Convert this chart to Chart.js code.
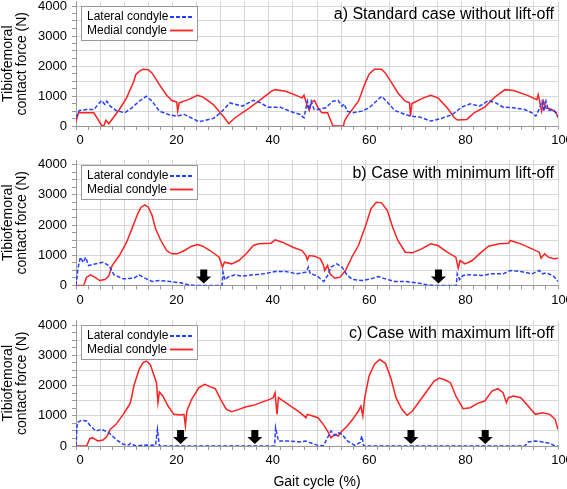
<!DOCTYPE html>
<html>
<head>
<meta charset="utf-8">
<script src="https://cdn.jsdelivr.net/npm/chart.js@4.4.1/dist/chart.umd.min.js"></script>
<style>
    html, body { margin: 0; padding: 0; background: #fff; }
    #wrap { position: relative; width: 567px; height: 489px; overflow: hidden; }
    canvas { position: absolute; left: 0; }
</style>
</head>
<body>
<div id="wrap">
    <canvas id="panelA" width="567" height="150" style="top:0px"></canvas>
    <canvas id="panelB" width="567" height="160" style="top:150px"></canvas>
    <canvas id="panelC" width="567" height="179" style="top:310px"></canvas>
</div>
<script>
// Axis ticks
const xTickValues = [0, 2.5, 5, 7.5, 10, 12.5, 15, 17.5, 20, 22.5, 25, 27.5, 30, 32.5, 35, 37.5, 40, 42.5, 45, 47.5,
    50, 52.5, 55, 57.5, 60, 62.5, 65, 67.5, 70, 72.5, 75, 77.5, 80, 82.5, 85, 87.5, 90, 92.5, 95, 97.5, 100];
const yTickValues = [0, 250, 500, 750, 1000, 1250, 1500, 1750, 2000, 2250, 2500, 2750, 3000, 3250, 3500, 3750, 4000];
const seriesNames = ['Lateral condyle', 'Medial condyle'];
const panelTitles = ['a) Standard case without lift-off', 'b) Case with minimum lift-off', 'c) Case with maximum lift-off'];
const yTitle = ['Tibiofemoral', 'contact force (N)'];
const xTitle = 'Gait cycle (%)';

// a) standard case
const lateralA_x = [0, 0.7, 2.2, 3.7, 5.3, 6, 6.4, 7.1, 8.3, 10.1, 11.6, 13.1, 14.6, 15.8, 17.3, 19.5, 21, 22.5, 25.5, 28.5, 30, 31.9, 34.5, 36.8, 38.3, 39.8, 42.4, 44.3, 46.5, 47.3, 48, 48.4, 48.8, 49.4, 50.3, 51.8, 53.3, 54.4, 55.2, 55.6, 56.3, 57.4, 59.3, 60.8, 62.3, 63.4, 64.6, 66.1, 68.3, 69.4, 71.3, 73.6, 75.8, 78.1, 80, 81.8, 83.7, 85.6, 87.1, 88.6, 90.8, 93.1, 94.6, 95.4, 96.2, 96.7, 97.1, 97.5, 98, 99.1, 100];
const lateralA = [275, 518, 550, 550, 850, 716, 826, 660, 518, 440, 606, 826, 990, 826, 496, 364, 330, 385, 143, 253, 440, 770, 660, 860, 770, 628, 628, 496, 385, 275, 826, 550, 826, 550, 550, 606, 826, 850, 660, 738, 496, 440, 496, 606, 826, 990, 795, 518, 385, 330, 298, 165, 253, 385, 628, 738, 660, 850, 770, 628, 606, 550, 440, 330, 606, 826, 496, 826, 518, 550, 330];
const medialA_x = [0, 0.5, 3.7, 5.4, 5.8, 6.2, 6.8, 9, 10.5, 12, 12.4, 13.1, 13.9, 15, 15.8, 17.3, 18.8, 19.9, 20.9, 21.1, 21.4, 23.3, 25.2, 26.3, 28.5, 30.8, 31.7, 33, 36, 38.3, 40.5, 41.3, 43.5, 45.8, 46.9, 47.3, 47.9, 48.4, 48.9, 49.5, 50.2, 51, 52.2, 53.3, 55.5, 55.7, 56.3, 58.6, 60, 60.8, 61.9, 63.4, 64.2, 65.3, 66.8, 68.3, 69.2, 69.4, 69.7, 72.1, 73.6, 75.1, 77, 78.5, 79.2, 81.1, 82.6, 84.8, 87.1, 89, 90.8, 93.8, 95.6, 95.9, 96.6, 97, 97.5, 98.7, 99.6, 100];
const medialA = [150, 440, 440, 0, 20, 190, 77, 550, 937, 1490, 1710, 1820, 1895, 1875, 1760, 1380, 1025, 850, 795, 500, 770, 880, 1025, 970, 716, 275, 77, 275, 606, 880, 1157, 1212, 1157, 1014, 937, 1025, 716, 518, 805, 850, 606, 440, 440, 0, 0, 165, 330, 826, 1430, 1730, 1895, 1895, 1760, 1490, 1100, 826, 770, 330, 750, 937, 1025, 937, 606, 275, 198, 220, 440, 628, 990, 1212, 1180, 1014, 880, 1047, 496, 826, 606, 550, 440, 275];

// b) minimum lift-off
const lateralB_x = [0, 0.4, 0.9, 1.5, 2, 2.6, 4.1, 5.6, 6.8, 7.9, 9.8, 12, 13.1, 14.3, 15.8, 17.3, 19.5, 21.8, 23.3, 24.8, 30.3, 30.5, 30.9, 31.5, 33, 34.5, 36.8, 39, 41.3, 43.5, 45.8, 47.7, 48.2, 48.6, 49.9, 51.4, 52.2, 52.9, 54.1, 55.2, 56.3, 57.4, 59.3, 61.2, 62.7, 64.2, 66.1, 68.3, 70.6, 72.8, 74.3, 78.9, 79.1, 79.6, 80.3, 81.8, 84.1, 86.3, 88.6, 90.1, 92.3, 94.6, 96.1, 96.8, 97.6, 99.1, 100];
const lateralB = [0, 551, 937, 771, 937, 661, 716, 771, 661, 353, 220, 242, 353, 242, 132, 165, 132, 88, 22, 0, 0, 440, 187, 275, 353, 308, 353, 386, 463, 463, 386, 440, 606, 386, 331, 132, 331, 606, 716, 606, 331, 198, 165, 220, 298, 220, 132, 132, 88, 22, 0, 0, 386, 198, 331, 353, 331, 386, 386, 496, 463, 386, 496, 386, 420, 308, 132];
const medialB_x = [0, 1.6, 2.2, 3, 3.9, 4.9, 6, 6.8, 7.5, 9, 10.5, 11.6, 12.8, 13.5, 14.3, 15, 15.8, 16.5, 17.6, 18.8, 19.9, 21, 22.5, 24, 25.2, 26.3, 27.8, 29.7, 30.4, 30.8, 32.3, 33.8, 35.3, 36.8, 37.9, 40.5, 41.3, 42.8, 45, 46.9, 47.7, 48, 48.4, 49.5, 50.7, 51.3, 51.6, 52.2, 52.7, 53.7, 54.8, 55.9, 57.4, 58.6, 60.1, 61.2, 62.3, 63.4, 64.6, 65.7, 66.8, 68.3, 69.8, 71.7, 73.6, 75.1, 77, 78.8, 79.3, 79.7, 80.7, 82.2, 84.1, 85.6, 87.8, 89.7, 90.1, 92.3, 94.6, 96.1, 96.5, 97.2, 98, 99.1, 100];
const medialB = [0, 0, 275, 353, 275, 165, 198, 308, 661, 992, 1432, 1873, 2370, 2590, 2667, 2590, 2314, 1873, 1488, 1157, 1047, 1047, 1157, 1300, 1355, 1300, 1157, 937, 606, 771, 716, 826, 1047, 1322, 1377, 1400, 1510, 1432, 1267, 1157, 992, 849, 992, 970, 882, 683, 496, 661, 386, 242, 275, 496, 992, 1322, 1984, 2535, 2755, 2733, 2480, 1928, 1488, 1102, 1080, 1212, 1377, 1322, 1102, 937, 573, 826, 716, 826, 1102, 1300, 1377, 1400, 1488, 1377, 1212, 1102, 904, 1047, 937, 882, 904];
const arrowsB = [26.5, 75.2];

// c) maximum lift-off
const lateralC_x = [0, 0.25, 1.1, 2.2, 3, 4.1, 5.3, 6.8, 8.3, 9.8, 10.9, 11.3, 12.4, 14.3, 16.5, 16.9, 17.3, 41.2, 41.4, 42, 44.3, 46.5, 47.7, 48.6, 50.2, 51.3, 52.2, 52.9, 53.7, 54.4, 55.2, 56.3, 57.8, 58.9, 59.3, 59.7, 93.1, 93.8, 95.3, 96.8, 98.3, 99.4, 100];
const lateralC = [0, 771, 849, 826, 661, 496, 551, 441, 220, 55, 33, 88, 0, 30, 22, 551, 0, 0, 606, 165, 165, 132, 165, 110, 22, 0, 275, 496, 353, 441, 386, 165, 22, 110, 331, 0, 0, 132, 165, 132, 88, 0, 0];
const medialC_x = [0, 2.2, 2.85, 3.4, 4.5, 5.6, 6.4, 7.1, 8.3, 9.8, 10.9, 11.3, 12, 13.1, 13.9, 14.6, 15.4, 16.1, 16.7, 17, 17.3, 18, 19.1, 20.3, 21.8, 22.4, 22.7, 23, 24, 25.5, 26.7, 27.8, 28.9, 30, 31.2, 32.3, 33.8, 35.3, 36.8, 38.3, 40.2, 40.9, 41.3, 41.7, 42, 43.5, 45, 46.5, 47.7, 48, 49.1, 50.2, 51.3, 52.2, 52.9, 53.7, 54.4, 55.2, 56.3, 57.4, 58.6, 59.1, 59.5, 59.9, 60.8, 61.9, 63, 64.2, 65.3, 66.4, 67.6, 68.7, 69.8, 71.3, 72.8, 74.3, 75.4, 76.6, 77.7, 78.8, 80.3, 81.8, 83.3, 84.8, 86.3, 87.5, 88.6, 89.3, 89.7, 90.8, 92.3, 93.8, 95.3, 96.8, 98.3, 99.4, 100];
const medialC = [0, 0, 242, 275, 165, 198, 309, 551, 716, 1047, 1322, 1433, 1984, 2535, 2755, 2810, 2700, 2369, 2094, 1433, 1785, 1653, 1322, 1047, 1025, 1047, 661, 1157, 1543, 1929, 2039, 1962, 1895, 1543, 1212, 1135, 1212, 1300, 1344, 1433, 1543, 1598, 1763, 1047, 1598, 1433, 1267, 1102, 937, 1047, 992, 937, 716, 496, 275, 386, 331, 496, 661, 882, 1157, 1322, 992, 1598, 2314, 2700, 2865, 2733, 2259, 1598, 1212, 1014, 1157, 1488, 1818, 2149, 2248, 2181, 2094, 1653, 1234, 1267, 1410, 1488, 1818, 1895, 1763, 1433, 1598, 1653, 1598, 1322, 1047, 1102, 1047, 882, 551];
const arrowsC = [21.7, 37.1, 69.5, 84.9];

const FONT = '"Liberation Sans", Arial, sans-serif';
Chart.defaults.font.family = FONT;
Chart.defaults.color = '#000';

function toPoints(xs, ys) {
    return xs.map((x, i) => ({ x: x, y: ys[i] }));
}

// Legend drawn as a framed box inside the plot, text first then line sample
const legendBox = {
    id: 'legendBox',
    afterDatasetsDraw(chart) {
        const { ctx, chartArea, scales } = chart;
        const left = chartArea.left + 5;
        const top = Math.round(scales.y.getPixelForValue(4000));
        ctx.save();
        ctx.fillStyle = '#fff';
        ctx.fillRect(left, top, 116, 34);
        ctx.strokeStyle = '#999';
        ctx.lineWidth = 1;
        ctx.strokeRect(left + 0.5, top + 0.5, 116, 34);
        ctx.font = '12px ' + FONT;
        ctx.textBaseline = 'middle';
        chart.data.datasets.forEach((ds, i) => {
            const y = top + 11 + i * 13.5;
            ctx.fillStyle = '#000';
            ctx.fillText(ds.label, left + 6, y);
            ctx.strokeStyle = ds.borderColor;
            ctx.lineWidth = 1.8;
            ctx.setLineDash(ds.borderDash || []);
            ctx.beginPath();
            ctx.moveTo(left + 89, y);
            ctx.lineTo(left + 112, y);
            ctx.stroke();
        });
        ctx.restore();
    }
};

// Panel caption, top right
const panelTitle = {
    id: 'panelTitle',
    afterDatasetsDraw(chart, args, opts) {
        const { ctx, chartArea, scales } = chart;
        ctx.save();
        ctx.font = '16px ' + FONT;
        ctx.fillStyle = '#000';
        ctx.textAlign = 'right';
        ctx.textBaseline = 'middle';
        ctx.fillText(opts.text, chartArea.right - 4, scales.y.getPixelForValue(4000) + 9);
        ctx.restore();
    }
};

// Black down arrows marking lift-off
const liftArrows = {
    id: 'liftArrows',
    afterDatasetsDraw(chart, args, opts) {
        if (!opts.xs) return;
        const { ctx, scales } = chart;
        const base = scales.y.getPixelForValue(0) - 2;
        ctx.save();
        ctx.fillStyle = '#000';
        opts.xs.forEach(v => {
            const cx = scales.x.getPixelForValue(v);
            ctx.beginPath();
            ctx.moveTo(cx - 3.5, base - 14);
            ctx.lineTo(cx + 3.5, base - 14);
            ctx.lineTo(cx + 3.5, base - 7);
            ctx.lineTo(cx + 7.5, base - 7);
            ctx.lineTo(cx, base);
            ctx.lineTo(cx - 7.5, base - 7);
            ctx.lineTo(cx - 3.5, base - 7);
            ctx.closePath();
            ctx.fill();
        });
        ctx.restore();
    }
};

function makePanel(id, lat, med, title, arrows, topPad, xHeight, showXTitle) {
    const ctx = document.getElementById(id).getContext('2d');
    return new Chart(ctx, {
        type: 'line',
        data: {
            datasets: [{
                label: seriesNames[0],
                data: lat,
                borderColor: '#2440ff',
                borderWidth: 1.5,
                borderDash: [4, 2],
                pointRadius: 0,
                tension: 0,
                fill: false
            }, {
                label: seriesNames[1],
                data: med,
                borderColor: '#ff2020',
                borderWidth: 1.5,
                pointRadius: 0,
                tension: 0,
                fill: false
            }]
        },
        options: {
            responsive: false,
            animation: false,
            layout: { padding: { top: topPad, right: 9, left: 0, bottom: 0 } },
            plugins: {
                legend: { display: false },
                tooltip: { enabled: false },
                panelTitle: { text: title },
                liftArrows: { xs: arrows }
            },
            scales: {
                x: {
                    type: 'linear',
                    min: 0,
                    max: 100,
                    afterBuildTicks: axis => { axis.ticks = xTickValues.map(v => ({ value: v })); },
                    afterFit: s => {
                        s.height = xHeight;
                        s.paddingLeft = 0;
                        s.paddingRight = 0;
                    },
                    grid: {
                        color: c => (c.tick && c.tick.value % 5 === 0) ? '#d6d6d6' : 'rgba(0,0,0,0)',
                        tickColor: '#999',
                        tickLength: 4
                    },
                    border: { color: '#999' },
                    ticks: {
                        callback: v => (v % 20 === 0 ? String(v) : ''),
                        autoSkip: false,
                        maxRotation: 0,
                        labelOffset: 4,
                        padding: 3,
                        font: { size: 13 }
                    },
                    title: {
                        display: showXTitle,
                        text: xTitle,
                        font: { size: 14, lineHeight: 1 },
                        padding: { top: 0, bottom: 0 }
                    }
                },
                y: {
                    min: 0,
                    max: 4150,
                    afterBuildTicks: axis => { axis.ticks = yTickValues.map(v => ({ value: v })); },
                    afterFit: s => {
                        s.width = 76;
                        s.paddingTop = 0;
                        s.paddingBottom = 0;
                    },
                    grid: {
                        color: c => (c.tick && c.tick.value % 500 === 0) ? '#d6d6d6' : 'rgba(0,0,0,0)',
                        tickColor: '#999',
                        tickLength: 4
                    },
                    border: { color: '#999' },
                    ticks: {
                        callback: v => (v % 1000 === 0 ? String(v) : ''),
                        autoSkip: false,
                        padding: 5,
                        font: { size: 13 }
                    },
                    title: {
                        display: true,
                        text: yTitle,
                        font: { size: 14, lineHeight: 1 },
                        padding: { top: 1, bottom: 0 }
                    }
                }
            }
        },
        plugins: [legendBox, panelTitle, liftArrows]
    });
}

makePanel('panelA', toPoints(lateralA_x, lateralA), toPoints(medialA_x, medialA), panelTitles[0], null, 1.5, 24, false);
makePanel('panelB', toPoints(lateralB_x, lateralB), toPoints(medialB_x, medialB), panelTitles[1], arrowsB, 10, 24.5, false);
makePanel('panelC', toPoints(lateralC_x, lateralC), toPoints(medialC_x, medialC), panelTitles[2], arrowsC, 10.5, 43, true);
</script>
</body>
</html>
